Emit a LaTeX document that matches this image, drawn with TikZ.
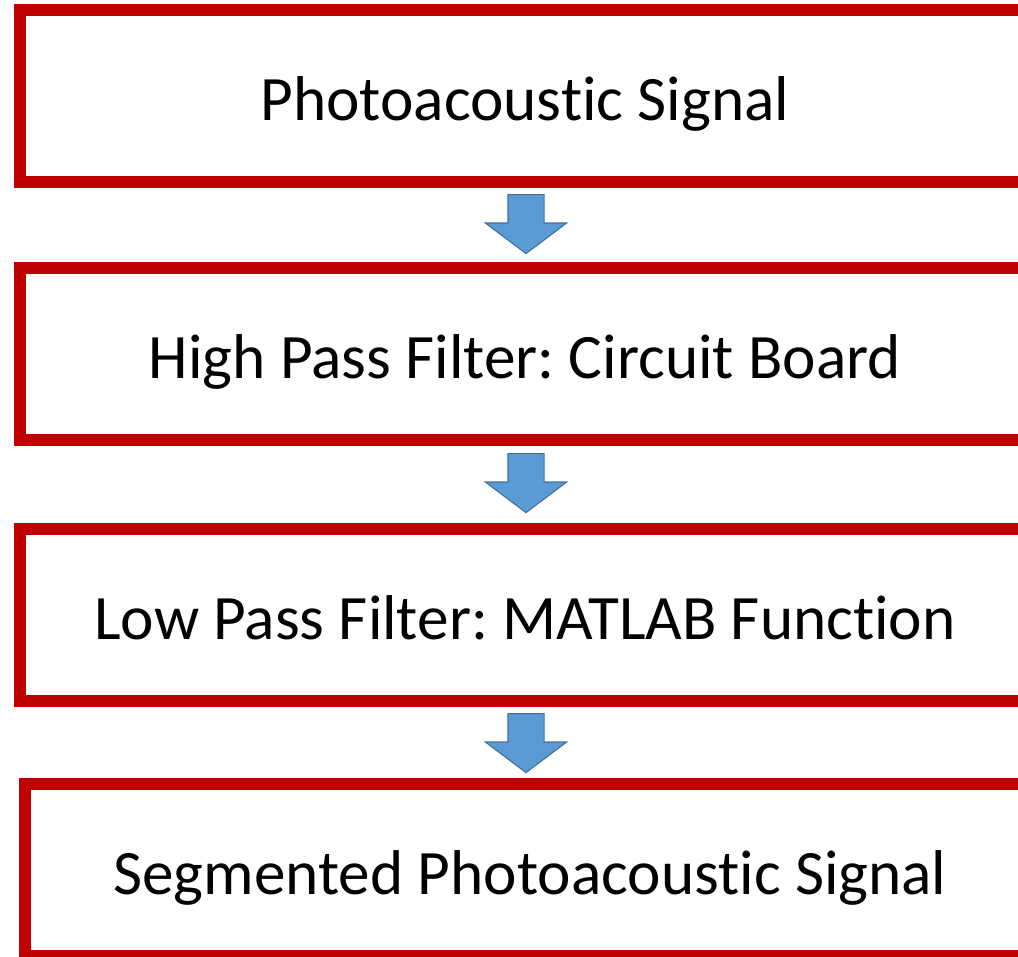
\documentclass[tikz,border=0pt]{standalone}
\usepackage{fontspec}
\setmainfont{Carlito}[Ligatures={NoCommon,NoRequired,NoContextual,NoRare}, Contextuals={NoAlternate}]
\usepackage{tikz}
\usetikzlibrary{shapes.arrows,calc}
\definecolor{stepred}{HTML}{C00000}
\definecolor{arrowblue}{HTML}{5B9BD5}
\definecolor{arrowedge}{HTML}{41719C}
\newcommand{\splitti}{t\kern0pt i}
\frenchspacing

\begin{document}
\begin{tikzpicture}[x=0.025cm, y=-0.025cm,
  stagebox/.style={draw=stepred, line width=0.3cm, fill=white, minimum width=25.25cm, minimum height=4.3cm, inner sep=0pt, text height=1.2cm, text depth=0cm, font=\fontsize{45}{54}\selectfont},
  downarrow/.style={single arrow, shape border rotate=270, draw=arrowedge, line width=0.8pt, fill=arrowblue, minimum height=1.475cm, minimum width=2cm, single arrow head extend=0.5625cm, single arrow tip angle=106, inner sep=0.4375cm, anchor=tail}]
  \clip (0,0) rectangle (1018,956);
  \node[stagebox] (signal) at (525,96) {Photoacous\splitti c Signal};
  \node[stagebox] (hpf) at (525,354) {High Pass Filter: Circuit Board};
  \node[stagebox] (lpf) at (525,615) {Low Pass Filter: MATLAB Func\splitti on};
  \node[stagebox] (segmented) at (530,870) {Segmented Photoacous\splitti c Signal};
  \node[downarrow] (a1) at ($(signal.south)+(1,6)$) {};
  \node[downarrow] (a2) at ($(hpf.south)+(1,7)$) {};
  \node[downarrow] (a3) at ($(lpf.south)+(1,6)$) {};
\end{tikzpicture}
\end{document}
